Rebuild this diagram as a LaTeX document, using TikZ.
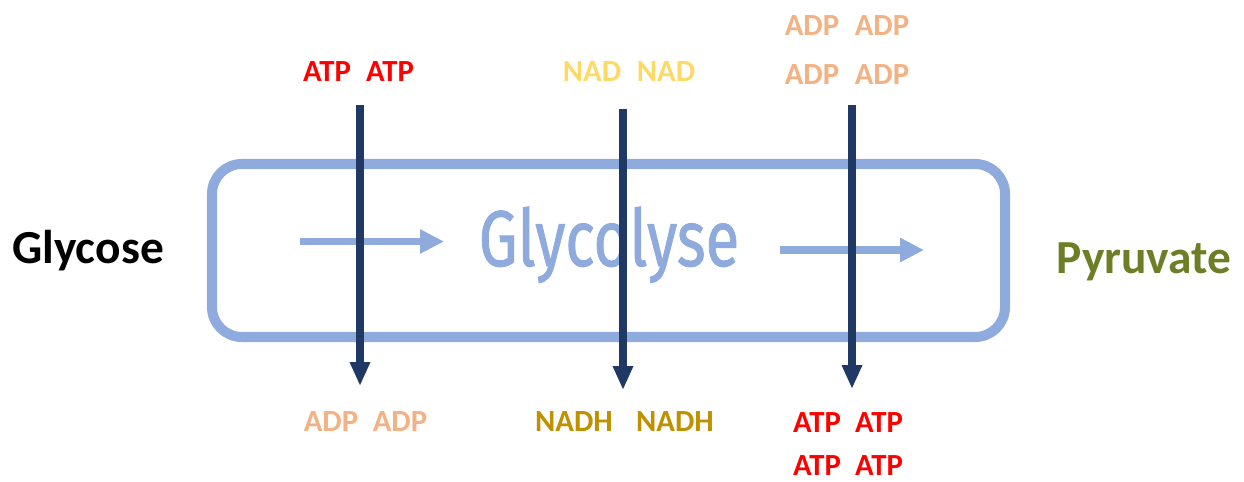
\documentclass[tikz,border=0pt]{standalone}
\usepackage{fontspec}
\setmainfont{Carlito}
\newfontfamily\glyfont[FakeBold=1.2]{Fira Sans}
\usetikzlibrary{arrows.meta}
\definecolor{boxblue}{HTML}{8FAADC}
\definecolor{navy}{HTML}{203864}
\definecolor{atpred}{HTML}{FF0000}
\definecolor{nadyel}{HTML}{FFD966}
\definecolor{adporange}{HTML}{F4B183}
\definecolor{nadhgold}{HTML}{BF9000}
\definecolor{pyrgreen}{HTML}{6E7E26}
\tikzset{
  mol/.style={font=\fontsize{17.5}{20}\selectfont\bfseries, inner sep=0pt},
  endtext/.style={font=\fontsize{27}{30}\selectfont\bfseries, inner sep=0pt},
  bluearrow/.style={draw=boxblue, line width=4.5pt, -{Triangle[length=13.6pt,width=13pt]}},
  navyarrow/.style={draw=navy, line width=4pt, -{Triangle[length=13.6pt,width=10.8pt]}},
}
\begin{document}
\begin{tikzpicture}[x=0.02cm, y=-0.02cm]
\useasboundingbox (0,0) rectangle (1244,482);
% process box
\draw[boxblue, line width=5.7pt, rounded corners=17pt] (212,164) rectangle (1005,337);
\node[anchor=base, boxblue, inner sep=0pt] (gly) at (609,266) {\glyfont\fontsize{45}{48}\selectfont\scalebox{0.78}[1]{Glycolyse}};
% start / end
\node[endtext, text=black] (glc) at (88,251) {Glycose};
\node[endtext, text=pyrgreen] (pyr) at (1144,262) {Pyruvate};
% blue arrows
\coordinate (b1s) at (300,241.5);
\coordinate (b1e) at (444,241.5);
\coordinate (b2s) at (780,250);
\coordinate (b2e) at (924,250);
\draw[bluearrow] (b1s) -- (b1e);
\draw[bluearrow] (b2s) -- (b2e);
% navy arrows
\coordinate (n1s) at (360,105);
\coordinate (n1e) at (360,386);
\coordinate (n2s) at (623,109);
\coordinate (n2e) at (623,390);
\coordinate (n3s) at (852,105);
\coordinate (n3e) at (852,389);
\draw[navyarrow] (n1s) -- (n1e);
\draw[navyarrow] (n2s) -- (n2e);
\draw[navyarrow] (n3s) -- (n3e);
% top labels
\node[mol, text=atpred] (ta1) at (327,72) {ATP};
\node[mol, text=atpred] (ta2) at (390,72) {ATP};
\node[mol, text=nadyel] (tn1) at (592,72) {NAD};
\node[mol, text=nadyel] (tn2) at (666,72) {NAD};
\node[mol, text=adporange] (td1) at (812,26) {ADP};
\node[mol, text=adporange] (td2) at (882,26) {ADP};
\node[mol, text=adporange] (td3) at (812,75) {ADP};
\node[mol, text=adporange] (td4) at (882,75) {ADP};
% bottom labels
\node[mol, text=adporange] (ba1) at (331,422) {ADP};
\node[mol, text=adporange] (ba2) at (400,422) {ADP};
\node[mol, text=nadhgold] (bn1) at (574,422) {NADH};
\node[mol, text=nadhgold] (bn2) at (675,422) {NADH};
\node[mol, text=atpred] (bt1) at (817,423) {ATP};
\node[mol, text=atpred] (bt2) at (879,423) {ATP};
\node[mol, text=atpred] (bt3) at (817,466) {ATP};
\node[mol, text=atpred] (bt4) at (879,466) {ATP};
\end{tikzpicture}
\end{document}
